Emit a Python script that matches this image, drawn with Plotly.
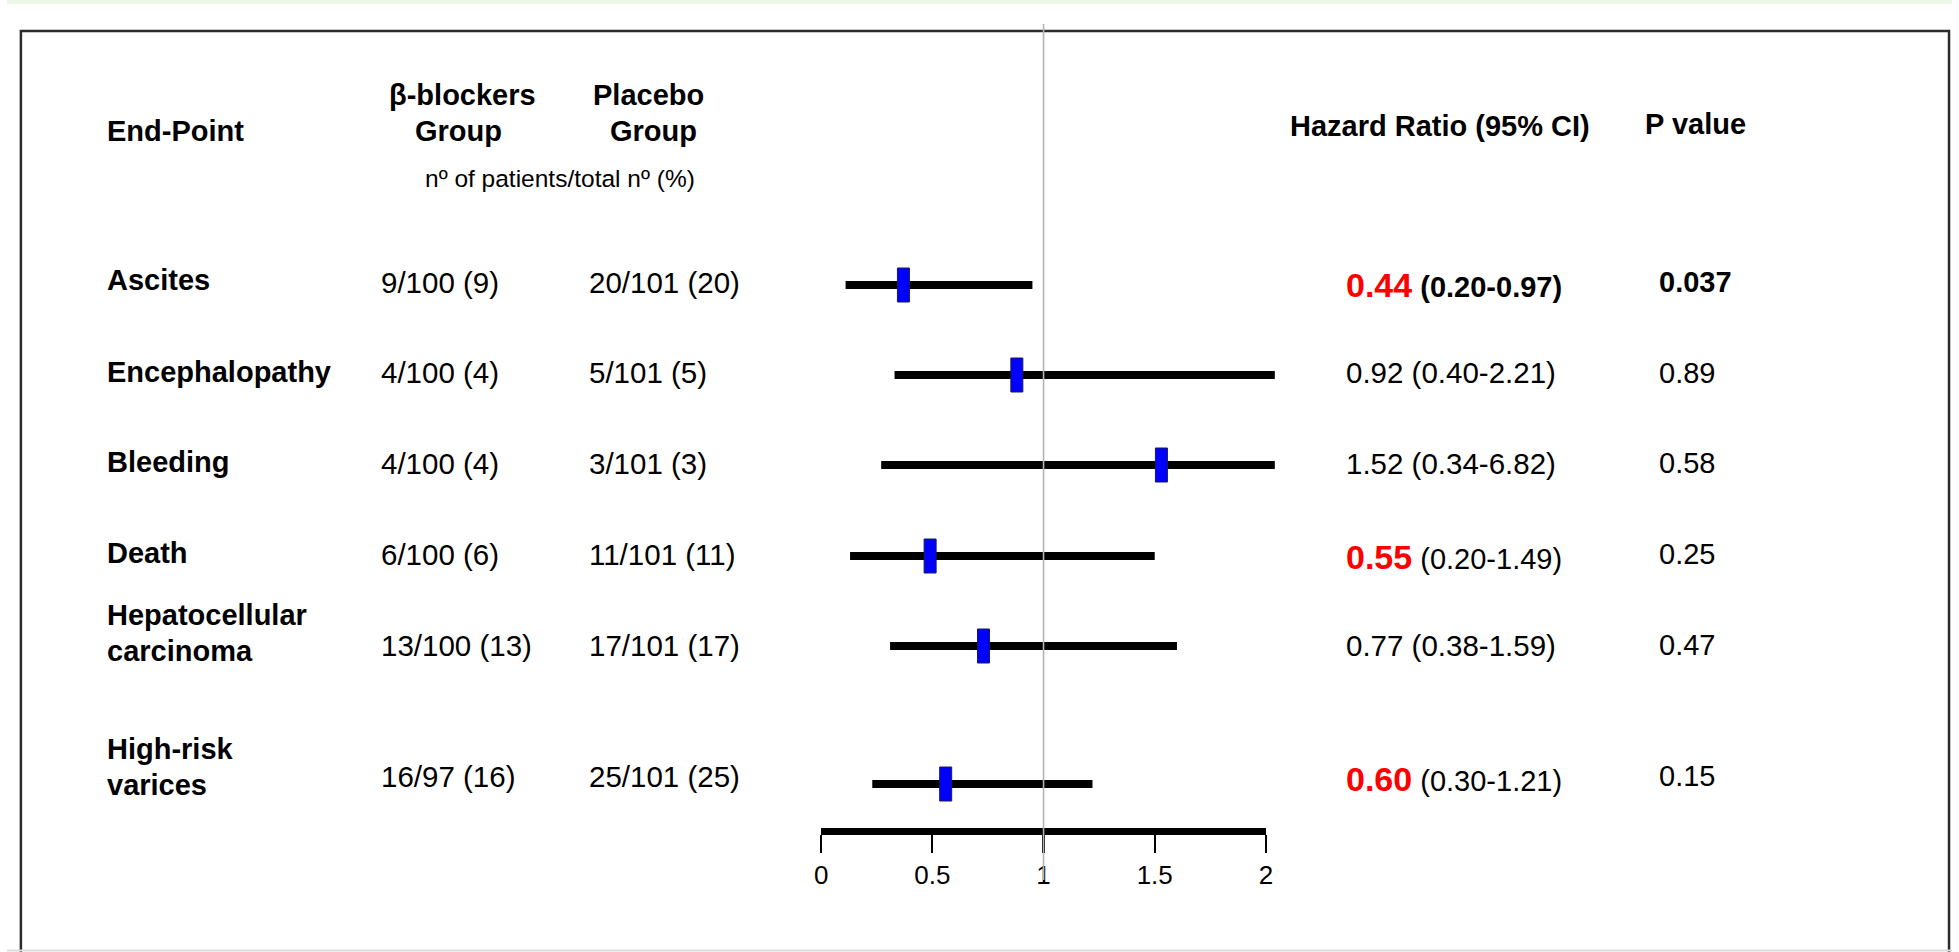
import plotly.graph_objects as go

# ---------------- data ----------------
endpoints = ["Ascites", "Encephalopathy", "Bleeding", "Death",
             "Hepatocellular\ncarcinoma", "High-risk\nvarices"]
bb_counts = ["9/100 (9)", "4/100 (4)", "4/100 (4)", "6/100 (6)", "13/100 (13)", "16/97 (16)"]
pl_counts = ["20/101 (20)", "5/101 (5)", "3/101 (3)", "11/101 (11)", "17/101 (17)", "25/101 (25)"]
hr_labels = ["0.44", "0.92", "1.52", "0.55", "0.77", "0.60"]
ci_labels = ["(0.20-0.97)", "(0.40-2.21)", "(0.34-6.82)", "(0.20-1.49)", "(0.38-1.59)", "(0.30-1.21)"]
p_labels = ["0.037", "0.89", "0.58", "0.25", "0.47", "0.15"]
hr_highlight = [True, False, False, True, False, True]
ci_bold = [True, False, False, False, False, False]
p_bold = [True, False, False, False, False, False]
# positions of the drawn marks
drawn_hr = [0.37, 0.88, 1.53, 0.49, 0.73, 0.56]
drawn_lo = [0.11, 0.33, 0.27, 0.13, 0.31, 0.23]
drawn_hi = [0.95, 2.04, 2.04, 1.50, 1.60, 1.22]
axis_ticks = [0, 0.5, 1, 1.5, 2]
null_value = 1

# ---------------- layout constants (pixels) ----------------
W, H = 1959, 952
X0_PX, X2_PX = 820, 1268
UNIT = (X2_PX - X0_PX) / 2.0
row_bar_y = [285, 375, 465, 556, 646, 784]
row_text_y = [282, 373, 463, 554, 645, 776]
row_label_y = [280, 372, 462, 553, 633, 767]
LINE_GAP = 36
COL_LABEL, COL_BB, COL_PL, COL_HR, COL_P = 99, 375, 584, 1347, 1662
FONT = "Liberation Sans, Arial, Helvetica, sans-serif"

fig = go.Figure()

for lo, hi, y in zip(drawn_lo, drawn_hi, row_bar_y):
    fig.add_trace(go.Scatter(x=[lo, hi], y=[y, y], mode="lines",
                             line=dict(color="black", width=8),
                             hoverinfo="skip", showlegend=False))

# invisible trace for the visible scale axis
fig.add_trace(go.Scatter(x=[axis_ticks[0], axis_ticks[-1]], y=[-500, -500], mode="markers",
                         marker=dict(opacity=0), xaxis="x2", yaxis="y",
                         hoverinfo="skip", showlegend=False))

shapes = []
# page strip / frame
shapes.append(dict(type="rect", xref="paper", yref="paper", x0=0, x1=1,
                   y0=1 - 4 / H, y1=1, fillcolor="#eef6ea", line=dict(width=0), layer="below"))
shapes.append(dict(type="rect", xref="paper", yref="paper", x0=14 / W, x1=1956 / W,
                   y0=-0.05, y1=1 - 31 / H, fillcolor="rgba(0,0,0,0)",
                   line=dict(color="#2b2b2b", width=2.5), layer="below"))
shapes.append(dict(type="line", xref="paper", yref="paper", x0=0, x1=1,
                   y0=1 - 950.5 / H, y1=1 - 950.5 / H, line=dict(color="#dcdcdc", width=2)))

# point estimate boxes
for hr, y in zip(drawn_hr, row_bar_y):
    shapes.append(dict(type="rect", xref="x", yref="y",
                       xsizemode="pixel", xanchor=hr, x0=-6, x1=6,
                       ysizemode="pixel", yanchor=y, y0=-17, y1=17,
                       fillcolor="#0000ff", line=dict(color="#1a1a55", width=1)))
# null line
shapes.append(dict(type="line", xref="x", yref="y", x0=null_value, x1=null_value,
                   y0=24, y1=880, line=dict(color="#b4b4b4", width=1.6)))

annotations = []


def ann(text, xpx, ypx, size, xanchor="left", bold=False, color="black"):
    if bold:
        text = "<b>" + text + "</b>"
    annotations.append(dict(text=text, xref="paper", yref="paper",
                            x=xpx / W, y=1 - ypx / H, xanchor=xanchor, yanchor="middle",
                            showarrow=False, font=dict(family=FONT, size=size, color=color)))


# headers
ann("End-Point", COL_LABEL, 131, 29, bold=True)
ann("β-blockers", 459, 95, 29, xanchor="center", bold=True)
ann("Group", 455, 131, 29, xanchor="center", bold=True)
ann("Placebo", 646, 95, 29, xanchor="center", bold=True)
ann("Group", 651, 131, 29, xanchor="center", bold=True)
ann("nº of patients/total nº (%)", 557, 178, 24.5, xanchor="center")
ann("Hazard Ratio (95% CI)", 1290, 126, 29, bold=True)
ann("P value", 1648, 124, 29, bold=True)

for i in range(len(endpoints)):
    lines = endpoints[i].split("\n")
    n = len(lines)
    for k, ln in enumerate(lines):
        ann(ln, COL_LABEL, row_label_y[i] + (k - (n - 1) / 2) * LINE_GAP, 29, bold=True)
    ty = row_text_y[i]
    ann(bb_counts[i], COL_BB, ty, 29.5)
    ann(pl_counts[i], COL_PL, ty, 29.5)
    ci = ci_labels[i]
    if ci_bold[i]:
        ci = "<b>" + ci + "</b>"
    if hr_highlight[i]:
        txt = ("<b><span style='color:#ff0000;font-size:34px'>" + hr_labels[i]
               + "</span></b> " + ci)
        ann(txt, COL_HR, ty + 3, 29)
    else:
        ann(hr_labels[i] + " " + ci, COL_HR, ty, 29.5)
    ann(p_labels[i], COL_P, ty, 29, bold=p_bold[i])

fig.update_layout(
    width=W, height=H,
    margin=dict(l=0, r=0, t=0, b=0),
    paper_bgcolor="white", plot_bgcolor="rgba(0,0,0,0)",
    showlegend=False,
    xaxis=dict(domain=[0, 1], range=[-X0_PX / UNIT, (W - X0_PX) / UNIT],
               visible=False, fixedrange=True),
    yaxis=dict(domain=[0, 1], range=[H, 0], visible=False, fixedrange=True),
    xaxis2=dict(domain=[X0_PX / W, X2_PX / W], range=[axis_ticks[0], axis_ticks[-1]],
                anchor="free", position=1 - 831 / H,
                showline=True, linewidth=7, linecolor="black",
                ticks="outside", tickvals=axis_ticks,
                ticktext=[("%g" % t) for t in axis_ticks],
                ticklen=18, tickwidth=2.2, tickcolor="black",
                tickfont=dict(family=FONT, size=26, color="black"),
                showgrid=False, zeroline=False, fixedrange=True),
    shapes=shapes,
    annotations=annotations,
)

fig.write_html("out.html", config={"displayModeBar": False, "staticPlot": True},
               post_script="document.body.style.margin='0';")
